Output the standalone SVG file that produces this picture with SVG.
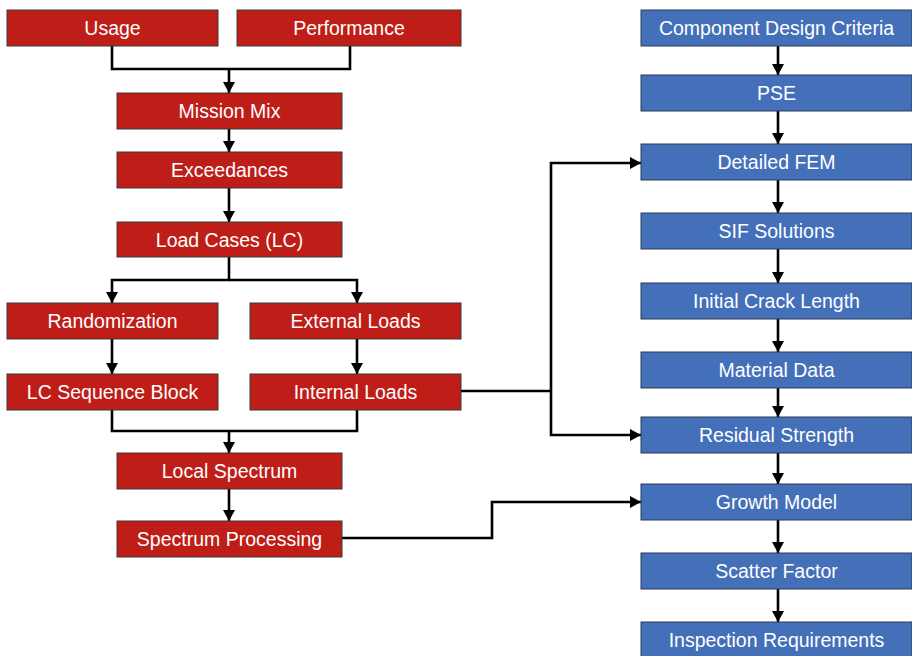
<svg xmlns="http://www.w3.org/2000/svg" width="912" height="656" viewBox="0 0 912 656">
<defs>
<marker id="arr" markerUnits="userSpaceOnUse" markerWidth="13" markerHeight="13" viewBox="0 0 13 13" refX="11" refY="6.5" orient="auto">
<path d="M0,0.5 L11,6.5 L0,12.5 z" fill="#000"/>
</marker>
<style>
.red rect{fill:#BE1E17;stroke:#3a3a3a;stroke-width:1}
.blue rect{fill:#4470BA;stroke:#2e3b55;stroke-width:1}
text{font-family:"Liberation Sans",Arial,sans-serif;font-size:19.5px;fill:#fff;text-anchor:middle}
.c path{fill:none;stroke:#000;stroke-width:2.6}
.c path.a{marker-end:url(#arr)}
</style>
</defs>
<rect width="912" height="656" fill="#fff"/>
<g class="c">
<path d="M112 46 V69 H350 V46"/>
<path class="a" d="M229 69 V93"/>
<path class="a" d="M229 129 V152"/>
<path class="a" d="M229 188 V222"/>
<path class="a" d="M229 257 V280 H112 V303"/>
<path class="a" d="M229 280 H357 V303"/>
<path class="a" d="M112 339 V374"/>
<path class="a" d="M357 339 V374"/>
<path d="M112 410 V431 H357 V410"/>
<path class="a" d="M229 431 V453"/>
<path class="a" d="M229 489 V521"/>
<path class="a" d="M342 538 H492 V502 H641"/>
<path d="M461 391 H551"/>
<path class="a" d="M551 391 V163 H641"/>
<path class="a" d="M551 391 V435 H641"/>
<path class="a" d="M778 46 V75"/>
<path class="a" d="M778 111 V144"/>
<path class="a" d="M778 180 V213"/>
<path class="a" d="M778 249 V283"/>
<path class="a" d="M778 319 V352"/>
<path class="a" d="M778 388 V417"/>
<path class="a" d="M778 453 V484"/>
<path class="a" d="M778 520 V553"/>
<path class="a" d="M778 589 V622"/>
</g>
<g id="usage" class="red"><rect x="7" y="10" width="211" height="36"/><text x="112.5" y="35">Usage</text></g>
<g id="performance" class="red"><rect x="237" y="10" width="224" height="36"/><text x="349" y="35">Performance</text></g>
<g id="mission-mix" class="red"><rect x="117" y="93" width="225" height="36"/><text x="229.5" y="118">Mission Mix</text></g>
<g id="exceedances" class="red"><rect x="117" y="152" width="225" height="36"/><text x="229.5" y="177">Exceedances</text></g>
<g id="load-cases" class="red"><rect x="117" y="222" width="225" height="35"/><text x="229.5" y="246.5">Load Cases (LC)</text></g>
<g id="randomization" class="red"><rect x="7" y="303" width="211" height="36"/><text x="112.5" y="328">Randomization</text></g>
<g id="external-loads" class="red"><rect x="250" y="303" width="211" height="36"/><text x="355.5" y="328">External Loads</text></g>
<g id="lc-sequence-block" class="red"><rect x="7" y="374" width="211" height="36"/><text x="112.5" y="399">LC Sequence Block</text></g>
<g id="internal-loads" class="red"><rect x="250" y="374" width="211" height="36"/><text x="355.5" y="399">Internal Loads</text></g>
<g id="local-spectrum" class="red"><rect x="117" y="453" width="225" height="36"/><text x="229.5" y="478">Local Spectrum</text></g>
<g id="spectrum-processing" class="red"><rect x="117" y="521" width="225" height="36"/><text x="229.5" y="546">Spectrum Processing</text></g>
<g id="component-design-criteria" class="blue"><rect x="641" y="10" width="271" height="36"/><text x="776.5" y="35">Component Design Criteria</text></g>
<g id="pse" class="blue"><rect x="641" y="75" width="271" height="36"/><text x="776.5" y="100">PSE</text></g>
<g id="detailed-fem" class="blue"><rect x="641" y="144" width="271" height="36"/><text x="776.5" y="169">Detailed FEM</text></g>
<g id="sif-solutions" class="blue"><rect x="641" y="213" width="271" height="36"/><text x="776.5" y="238">SIF Solutions</text></g>
<g id="initial-crack-length" class="blue"><rect x="641" y="283" width="271" height="36"/><text x="776.5" y="308">Initial Crack Length</text></g>
<g id="material-data" class="blue"><rect x="641" y="352" width="271" height="36"/><text x="776.5" y="377">Material Data</text></g>
<g id="residual-strength" class="blue"><rect x="641" y="417" width="271" height="36"/><text x="776.5" y="442">Residual Strength</text></g>
<g id="growth-model" class="blue"><rect x="641" y="484" width="271" height="36"/><text x="776.5" y="509">Growth Model</text></g>
<g id="scatter-factor" class="blue"><rect x="641" y="553" width="271" height="36"/><text x="776.5" y="578">Scatter Factor</text></g>
<g id="inspection-requirements" class="blue"><rect x="641" y="622" width="271" height="36"/><text x="776.5" y="647">Inspection Requirements</text></g>
</svg>
